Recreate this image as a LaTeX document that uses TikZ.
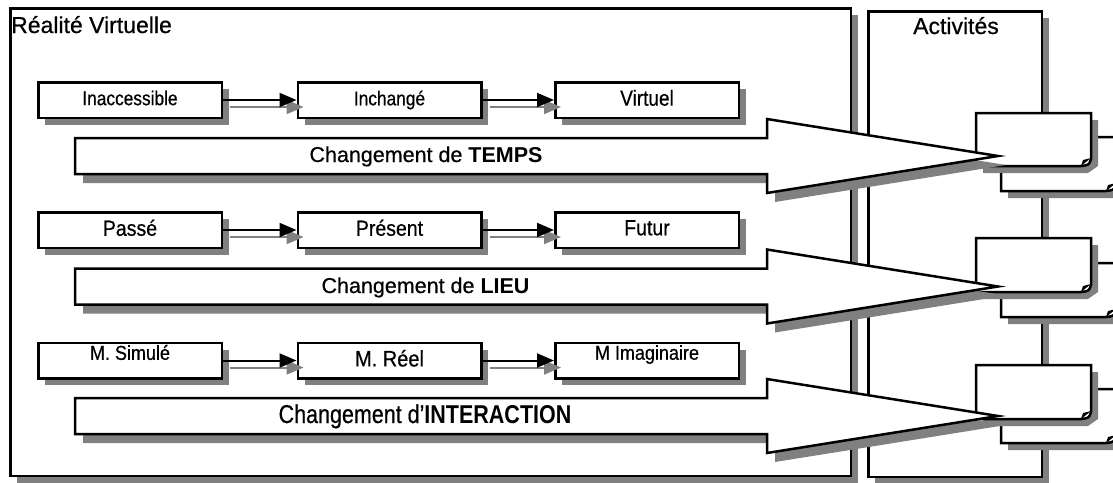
\documentclass[tikz,border=0pt]{standalone}
\usepackage{fontspec}
\setmainfont{Liberation Sans}[UprightFeatures={FakeBold=0.6}]
\usepackage{graphicx}
\usetikzlibrary{arrows.meta,shadows}
\newcommand\stretchlbl[3]{{\fontsize{#1}{#1}\selectfont\scalebox{1}[#2]{\vphantom{Ig}#3}}}
\newcommand\docpage[4]{%
  \fill[gray] (#1+7,#2+7) -- (#3+7,#2+7) -- (#3+7,#4+7-7) -- (#3+7-10,#4+7) -- (#1+7,#4+7) -- cycle;
  \draw[line width=2.5pt, fill=white, line join=miter] (#1,#2) -- (#3,#2) -- (#3,#4-7) .. controls (#3-2,#4-1) .. (#3-10,#4) -- (#1,#4) -- cycle;
  \fill (#3,#4-8) -- (#3-10,#4) -- (#3-8,#4-6) -- cycle;
}
\newcommand\bigarr[1]{%
  \fill[gray] (75+8,#1-18+9) -- (767+8,#1-18+9) -- (767+8,#1-37+9) -- (998+8,#1+9) -- (767+8,#1+37+9) -- (767+8,#1+18+9) -- (75+8,#1+18+9) -- cycle;
  \draw[bigarrow] (75,#1-18) -- (767,#1-18) -- (767,#1-37) -- (998,#1) -- (767,#1+37) -- (767,#1+18) -- (75,#1+18) -- cycle;
}
\tikzset{
  shd/.style={drop shadow={shadow xshift=7pt, shadow yshift=-7pt, fill=gray, opacity=1}},
  framebox/.style={draw, line width=2.5pt, fill=white, inner sep=0pt, shd},
  stepbox/.style={draw, line width=2.5pt, fill=white, minimum width=183.5pt, minimum height=35.5pt, inner sep=0pt, shd},
  conn/.style={line width=2pt, -{Triangle[length=17pt,width=14pt]}},
  connshd/.style={conn, gray, transform canvas={xshift=7pt,yshift=-7pt}},
  bigarrow/.style={draw, line width=2.5pt, fill=white, line join=miter},
  titlefont/.style={font=\fontsize{23}{23}\selectfont, inner sep=0pt},
  arrfont/.style={font=\fontsize{21.5}{21.5}\selectfont, inner sep=0pt, anchor=base},
}
\begin{document}
\begin{tikzpicture}[x=1pt,y=-1pt]
\useasboundingbox (0,0) rectangle (1113,482);
\clip (0,0) rectangle (1113,482);
\fill[white] (0,0) rectangle (1113,482);
% frames
\node[framebox, minimum width=840.5pt, minimum height=467.5pt] (rv) at (430.5,242) {};
\node[framebox, minimum width=173.5pt, minimum height=465.5pt] (act) at (955,244) {};
\node[titlefont, anchor=base west] (rvt) at (11,33) {Réalité Virtuelle};
\node[titlefont, anchor=base] (actt) at (956,34) {Activités};
% step boxes
\node[stepbox] (a1) at (130,100) {\stretchlbl{17.3}{1.15}{Inaccessible}};
\node[stepbox] (b1) at (389.5,100) {\stretchlbl{17.3}{1.15}{Inchangé}};
\node[stepbox] (c1) at (647,100) {\stretchlbl{19}{1.15}{Virtuel}};
\node[stepbox] (a2) at (130,230) {\stretchlbl{19.5}{1.12}{Passé}};
\node[stepbox] (b2) at (389.5,230) {\stretchlbl{19.5}{1.12}{Présent}};
\node[stepbox] (c2) at (647,230) {\stretchlbl{19.5}{1.12}{Futur}};
\node[stepbox, label={[yshift=6pt]center:\stretchlbl{18}{1.12}{M. Simulé}}] (a3) at (130,360.5) {};
\node[stepbox] (b3) at (389.5,360.5) {\stretchlbl{20}{1.12}{M. Réel}};
\node[stepbox, label={[yshift=6pt]center:\stretchlbl{18}{1.12}{M Imaginaire}}] (c3) at (647,360.5) {};
% connectors
\foreach \u/\v in {a1/b1,b1/c1,a2/b2,b2/c2,a3/b3,b3/c3}{
  \draw[connshd] (\u.east) -- (\v.west);
  \draw[conn] (\u.east) -- (\v.west);
}
% document stacks
\docpage{1001}{137}{1116}{191}
\docpage{976}{113}{1091}{166}
\docpage{1001}{263}{1116}{317}
\docpage{976}{238}{1091}{292}
\docpage{1001}{389}{1116}{443}
\docpage{976}{365}{1091}{419}
% big arrows
\bigarr{156}
\bigarr{286.5}
\bigarr{416}
\node[arrfont] (t1) at (426,162) {Changement de \textbf{TEMPS}};
\node[arrfont] (t2) at (425.5,293) {Changement de \textbf{LIEU}};
\node[arrfont] (t3) at (425,423) {\scalebox{1}[1.2]{Changement d’\textbf{INTERACTION}}};
\end{tikzpicture}
\end{document}
